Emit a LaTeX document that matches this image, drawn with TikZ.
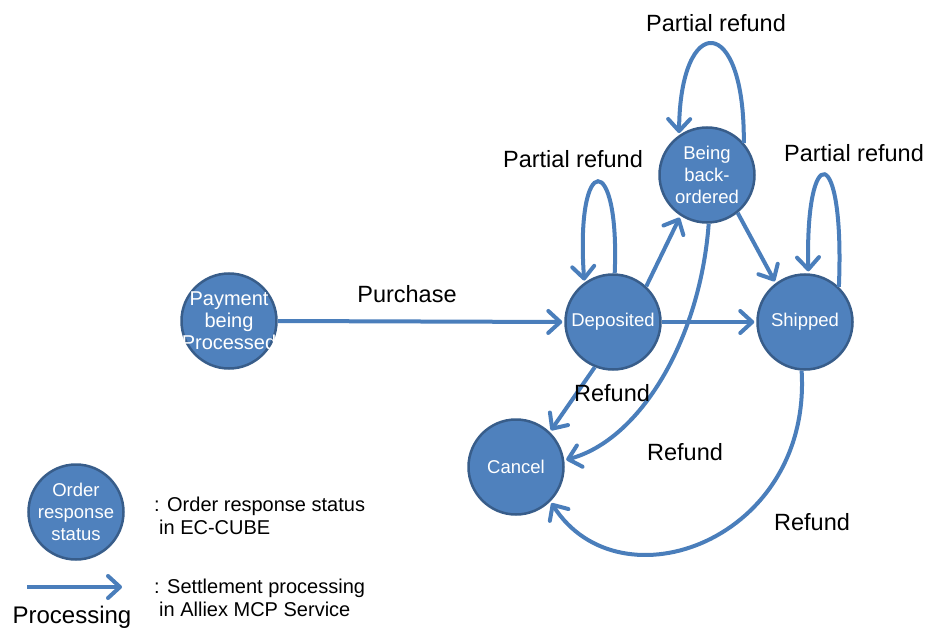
\documentclass[tikz,border=0pt]{standalone}
\usepackage{fontspec}
\setmainfont{Liberation Sans}
\usetikzlibrary{arrows.meta}
\definecolor{nodefill}{HTML}{4F81BD}
\definecolor{nodeborder}{HTML}{385D8A}
\definecolor{arrowblue}{HTML}{4A7EBB}
\newcommand{\zl}[1]{\makebox[0pt][c]{#1}}
\begin{document}
\begin{tikzpicture}[x=1pt,y=-1pt,
  state/.style={circle, fill=nodefill, draw=nodeborder, line width=2.5pt, minimum size=95pt, inner sep=0pt, text=white, align=center, font=\fontsize{18.5}{22}\selectfont},
  flow/.style={draw=arrowblue, line width=4pt, shorten >=2pt, -{Straight Barb[length=12pt,width=22pt,round]}},
  lbl/.style={font=\fontsize{23.5}{28}\selectfont, text=black, inner sep=0pt},
  legtext/.style={font=\fontsize{20}{23}\selectfont, text=black, align=left, inner sep=0pt, anchor=west}]
\useasboundingbox (0,0) rectangle (926,631);
% states
\node[state, font=\fontsize{20}{22}\selectfont] (pay) at (229,321) {\zl{Payment}\\\zl{being}\\\zl{Processed}};
\node[state] (dep) at (613,322) {Deposited};
\node[state] (bbo) at (707,175) {\zl{Being}\\\zl{back-}\\\zl{ordered}};
\node[state] (shp) at (805,322) {Shipped};
\node[state] (can) at (516,467) {Cancel};
% transitions
\draw[flow] (pay.east) -- (dep.west);
\draw[flow] (dep.east) -- (shp.west);
\draw[flow] (dep.47) -- (bbo.237);
\draw[flow] (bbo.309) -- (shp.127);
\draw[flow] (dep.248) -- (can.46);
\draw[flow] (bbo.272) .. controls (700,340) and (640,440) .. (can.8);
\draw[flow] (shp.266) .. controls (812,540) and (620,610) .. (can.-45);
% self loops
\draw[flow] (dep.88) .. controls (620,150) and (575,150) .. (dep.126);
\draw[flow] (bbo.41) .. controls (745,12) and (680,12) .. (bbo.125);
\draw[flow] (shp.46) .. controls (845,140) and (805,140) .. (shp.86);
% labels
\node[lbl] (lp) at (407,294) {Purchase};
\node[lbl] (lpr1) at (716,23) {Partial refund};
\node[lbl] (lpr2) at (573,159) {Partial refund};
\node[lbl] (lpr3) at (854,153) {Partial refund};
\node[lbl] (lr1) at (612,393) {Refund};
\node[lbl] (lr2) at (685,452) {Refund};
\node[lbl] (lr3) at (812,522) {Refund};
% legend
\node[state] (leg) at (76,512) {\zl{Order}\\\zl{response}\\\zl{status}};
\node[legtext] (legt1) at (154,516) {: Order response status\\\hspace*{5pt}in EC-CUBE};
\coordinate (la) at (27,587);
\coordinate (lb) at (124,587);
\draw[flow] (la) -- (lb);
\node[lbl, font=\fontsize{24}{28}\selectfont] (lproc) at (72,617) {Processing};
\node[legtext] (legt2) at (154,598) {: Settlement processing\\\hspace*{5pt}in Alliex MCP Service};
\end{tikzpicture}
\end{document}
